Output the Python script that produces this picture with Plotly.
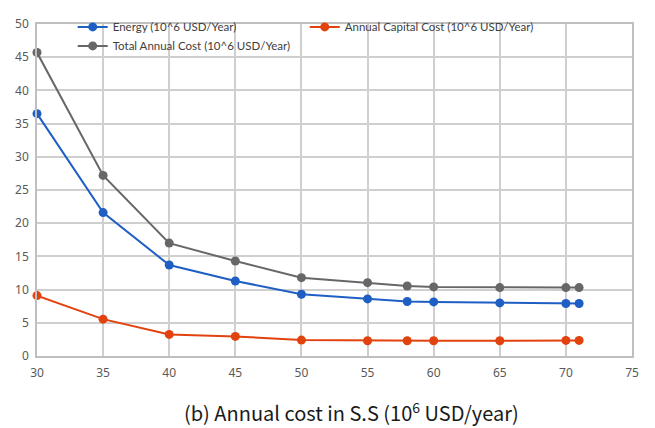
import plotly.graph_objects as go

x_vals = [30, 35, 40, 45, 50, 55, 58, 60, 65, 70, 71]
energy = [36.5, 21.6, 13.7, 11.3, 9.3, 8.6, 8.2, 8.15, 8.0, 7.9, 7.9]
capital = [9.1, 5.55, 3.25, 2.95, 2.4, 2.3, 2.3, 2.3, 2.3, 2.35, 2.35]
total = [45.7, 27.2, 17.0, 14.3, 11.8, 11.05, 10.55, 10.4, 10.3, 10.3, 10.3]

names = ["Energy (10^6 USD/Year)", "Annual Capital Cost (10^6 USD/Year)", "Total Annual Cost (10^6 USD/Year)"]
colors = ["#1F5FC4", "#E2420D", "#676767"]

fig = go.Figure()
fig.add_trace(go.Scatter(x=x_vals, y=energy, name=names[0], mode="lines+markers",
                         line=dict(color=colors[0], width=2), marker=dict(size=9, color=colors[0]),
                         legend="legend", cliponaxis=False))
fig.add_trace(go.Scatter(x=x_vals, y=total, name=names[2], mode="lines+markers",
                         line=dict(color=colors[2], width=2), marker=dict(size=9, color=colors[2]),
                         legend="legend", cliponaxis=False))
fig.add_trace(go.Scatter(x=x_vals, y=capital, name=names[1], mode="lines+markers",
                         line=dict(color=colors[1], width=2), marker=dict(size=9, color=colors[1]),
                         legend="legend2", cliponaxis=False))

tickfont = dict(family="Noto Sans", size=12, color="#595959")
legfont = dict(family="Lato", size=11.5, color="#404040")

fig.update_layout(
    width=655, height=428,
    margin=dict(l=37, r=23, t=15, b=72),
    paper_bgcolor="white", plot_bgcolor="white",
    showlegend=True,
    legend=dict(x=0.06, y=1.035, xanchor="left", yanchor="top", font=legfont,
                bgcolor="rgba(0,0,0,0)", tracegroupgap=0, itemwidth=30),
    legend2=dict(x=0.45, y=1.035, xanchor="left", yanchor="top", font=legfont,
                 bgcolor="rgba(0,0,0,0)", itemwidth=30),
    xaxis=dict(range=[30, 75], tickvals=[30, 35, 40, 45, 50, 55, 60, 65, 70, 75],
               showgrid=True, gridcolor="#CFCFCF", gridwidth=1.5,
               showline=True, linecolor="#BFBFBF", linewidth=1.5, mirror=True,
               zeroline=False, ticks="", tickfont=tickfont, ticklabelstandoff=5),
    yaxis=dict(range=[0, 50], tickvals=[0, 5, 10, 15, 20, 25, 30, 35, 40, 45, 50],
               showgrid=True, gridcolor="#CFCFCF", gridwidth=1.5,
               showline=True, linecolor="#BFBFBF", linewidth=1.5, mirror=True,
               zeroline=False, ticks="", tickfont=tickfont, ticklabelstandoff=4),
    annotations=[dict(text="(b) Annual cost in S.S (10<sup>6</sup> USD/year)",
                      xref="paper", yref="paper", x=0.529, y=-0.168,
                      xanchor="center", yanchor="middle", showarrow=False,
                      font=dict(family="Noto Sans CJK KR", size=20, color="#1a1a1a"))],
)

fig.write_html("out.html")
